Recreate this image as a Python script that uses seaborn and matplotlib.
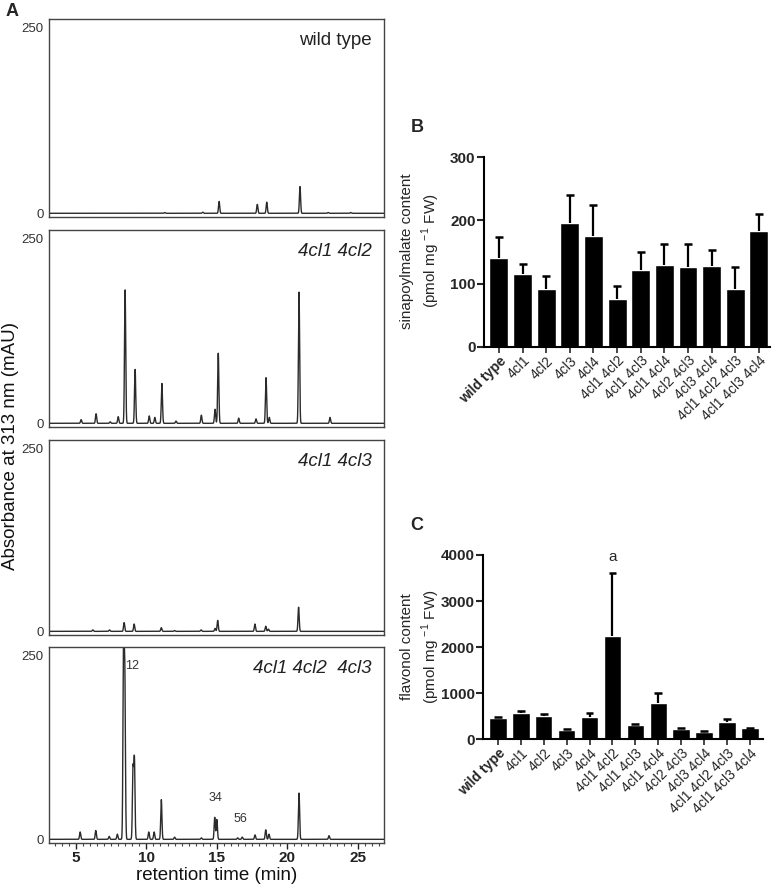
import numpy as np
import pandas as pd
import matplotlib
matplotlib.use("Agg")
import matplotlib.pyplot as plt
import seaborn as sns

sns.set_style("ticks")
plt.rcParams['font.family'] = ['Liberation Sans', 'DejaVu Sans']
plt.rcParams['mathtext.fontset'] = 'custom'
plt.rcParams['mathtext.rm'] = 'Liberation Sans'

# ---------------- data ----------------
# Chromatogram peaks (retention time in min, height in mAU)
wt_rt = [11.3, 14.0, 15.16, 17.87, 18.54, 20.9, 22.9, 24.5]
wt_h = [1, 1.5, 16, 12, 15, 36, 1, 1]

cl12_rt = [5.37, 6.43, 7.43, 8.0, 8.49, 9.2, 10.2, 10.6, 11.1, 12.1, 13.9,
           14.87, 15.1, 16.55, 17.78, 18.49, 18.72, 20.83, 23.03]
cl12_h = [5, 13, 2, 9, 181, 73, 10, 8, 54, 3, 11, 19, 95, 7, 6, 62, 8, 178, 8]

cl13_rt = [6.2, 7.38, 8.42, 9.13, 11.06, 12.0, 13.88, 14.87, 15.06, 17.7,
           18.47, 18.66, 20.8]
cl13_h = [2, 2, 12, 10, 5, 1, 2, 4, 15, 10, 7, 3, 33]

cl123_rt = [5.3, 6.41, 7.36, 7.94, 8.38, 8.47, 9.05, 9.15, 10.17, 10.55, 11.06,
            12.0, 13.9, 14.85, 15.0, 16.48, 16.8, 17.71, 18.47, 18.7, 20.83, 22.96]
cl123_h = [10, 12, 4, 7, 262, 215, 95, 108, 10, 10, 54, 3, 2, 30, 27, 2, 3, 6,
           13, 7, 63, 5]

panel_names = ["wild type", "4cl1 4cl2", "4cl1 4cl3", "4cl1 4cl2  4cl3"]
peak_labels = ["12", "34", "56"]
peak_label_rt = [8.5, 14.87, 16.65]
peak_label_y = [236, 56, 28]

chrom_xticks = [5, 10, 15, 20, 25]

# Bar charts
genotypes = ["wild type", "4cl1", "4cl2", "4cl3", "4cl4", "4cl1 4cl2", "4cl1 4cl3",
             "4cl1 4cl4", "4cl2 4cl3", "4cl3 4cl4", "4cl1 4cl2 4cl3", "4cl1 4cl3 4cl4"]
sinap_mean = [141, 115, 92, 196, 176, 76, 122, 130, 126, 128, 91, 184]
sinap_upper = [173, 131, 112, 240, 224, 96, 150, 163, 163, 153, 127, 210]
flav_mean = [456, 564, 506, 202, 477, 2235, 318, 781, 224, 159, 383, 239]
flav_upper = [490, 621, 549, 217, 564, 3603, 332, 998, 238, 188, 434, 253]

# ---------------- figure ----------------
W, H = 774, 884
fig = plt.figure(figsize=(W / 100, H / 100), dpi=100)


def rect(l, t, r, b):
    return [l / W, 1 - b / H, (r - l) / W, (b - t) / H]


chrom_boxes = [(49, 19, 384, 217), (49, 230, 384, 427), (49, 440, 384, 635),
               (49, 647, 384, 843)]
chrom_data = [(wt_rt, wt_h), (cl12_rt, cl12_h), (cl13_rt, cl13_h), (cl123_rt, cl123_h)]

t = np.arange(3.0, 27.0, 0.004)
frame_col = "#444444"
for i, (box, (rts, hs)) in enumerate(zip(chrom_boxes, chrom_data)):
    ax = fig.add_axes(rect(*box))
    trace = np.zeros_like(t)
    for r, h in zip(rts, hs):
        trace += h * np.exp(-0.5 * ((t - r) / 0.042) ** 2)
    sns.lineplot(x=t, y=trace, ax=ax, color="#2b2b2b", linewidth=1.0)
    ax.set_xlim(3.09, 26.86)
    ax.set_ylim(-5, 262)
    ax.set_yticks([0, 250])
    ax.set_yticklabels(["0", "250"])
    ax.tick_params(axis='y', length=0, pad=4, labelsize=9.5, colors="#333333")
    for s in ax.spines.values():
        s.set_visible(True)
        s.set_color(frame_col)
        s.set_linewidth(1.0)
    ax.set_xlabel("")
    ax.set_ylabel("")
    style = "normal" if i == 0 else "italic"
    ax.text(0.962, 0.89, panel_names[i], transform=ax.transAxes, ha='right',
            va='center', fontsize=13.5, style=style, color="#222222")
    if i < 3:
        ax.set_xticks([])
    else:
        ax.set_xticks(chrom_xticks)
        ax.set_xticklabels([str(v) for v in chrom_xticks], fontweight='bold')
        ax.set_xticks(np.arange(3.5, 27.0, 0.5), minor=True)
        ax.tick_params(axis='x', which='major', length=4, width=1, direction='out',
                       labelsize=11, colors="#222222", pad=2)
        ax.tick_params(axis='x', which='minor', length=2.5, width=0.8, direction='out',
                       colors="#444444")
        ax.set_xlabel("retention time (min)", fontsize=13.5, labelpad=1, color="#111111")
        for lbl, rx, ry in zip(peak_labels, peak_label_rt, peak_label_y):
            ha = 'left' if lbl == "12" else 'center'
            ax.text(rx, ry, lbl, ha=ha, va='center', fontsize=9, color="#333333")

fig.text(11 / W, 1 - 446 / H, "Absorbance at 313 nm (mAU)", rotation=90,
         ha='center', va='center', fontsize=13.5, color="#111111")
fig.text(12 / W, 1 - 12 / H, "A", fontsize=13, fontweight='bold', ha='center', va='center')


def bar_panel(box, means, uppers, ylim, yticks, xlim, width, ylabel1, label_center):
    ax = fig.add_axes(rect(*box))
    df = pd.DataFrame({"genotype": genotypes, "value": means})
    sns.barplot(data=df, x="genotype", y="value", order=genotypes, color="black",
                saturation=1, width=width, ax=ax, errorbar=None)
    x = np.arange(len(genotypes))
    # upper-only error bars (SD) with caps
    ax.vlines(x, means, uppers, colors='black', linewidth=1.6)
    ax.hlines(uppers, x - 0.17, x + 0.17, colors='black', linewidth=1.8)
    ax.set_ylim(*ylim)
    ax.set_xlim(*xlim)
    ax.set_yticks(yticks)
    ax.set_yticklabels([str(v) for v in yticks], fontweight='bold')
    sns.despine(ax=ax)
    for s in ("left", "bottom"):
        ax.spines[s].set_linewidth(1.5)
        ax.spines[s].set_color("black")
    ax.tick_params(axis='y', length=5, width=1.5, labelsize=11, pad=1)
    ax.tick_params(axis='x', length=4, width=1.2, labelsize=10, pad=1)
    ax.set_xticks(x)
    ax.set_xticklabels(genotypes, rotation=45, ha='right', rotation_mode='anchor')
    ax.get_xticklabels()[0].set_fontweight('bold')
    ax.set_xlabel("")
    ax.set_ylabel("")
    fig.text(label_center[0] / W, 1 - label_center[1] / H,
             ylabel1 + "\n(pmol mg $^{-1}$ FW)", rotation=90, ha='center',
             va='center', fontsize=11, linespacing=1.3, multialignment='center')
    return ax


bar_panel((484, 157.3, 770, 346.7), sinap_mean, sinap_upper, (0, 300),
          [0, 100, 200, 300], (-0.63, 11.47), 0.8, "sinapoylmalate content", (421, 251))
axc = bar_panel((483, 555, 763, 739.3), flav_mean, flav_upper, (0, 4000),
                [0, 1000, 2000, 3000, 4000], (-0.65, 11.57), 0.76, "flavonol content",
                (421, 647))
axc.text(5, 3960, "a", ha='center', va='center', fontsize=11, clip_on=False)

fig.text(417 / W, 1 - 128 / H, "B", fontsize=13, fontweight='bold', ha='center', va='center')
fig.text(417 / W, 1 - 526 / H, "C", fontsize=13, fontweight='bold', ha='center', va='center')

fig.savefig("out.png", dpi=100)
